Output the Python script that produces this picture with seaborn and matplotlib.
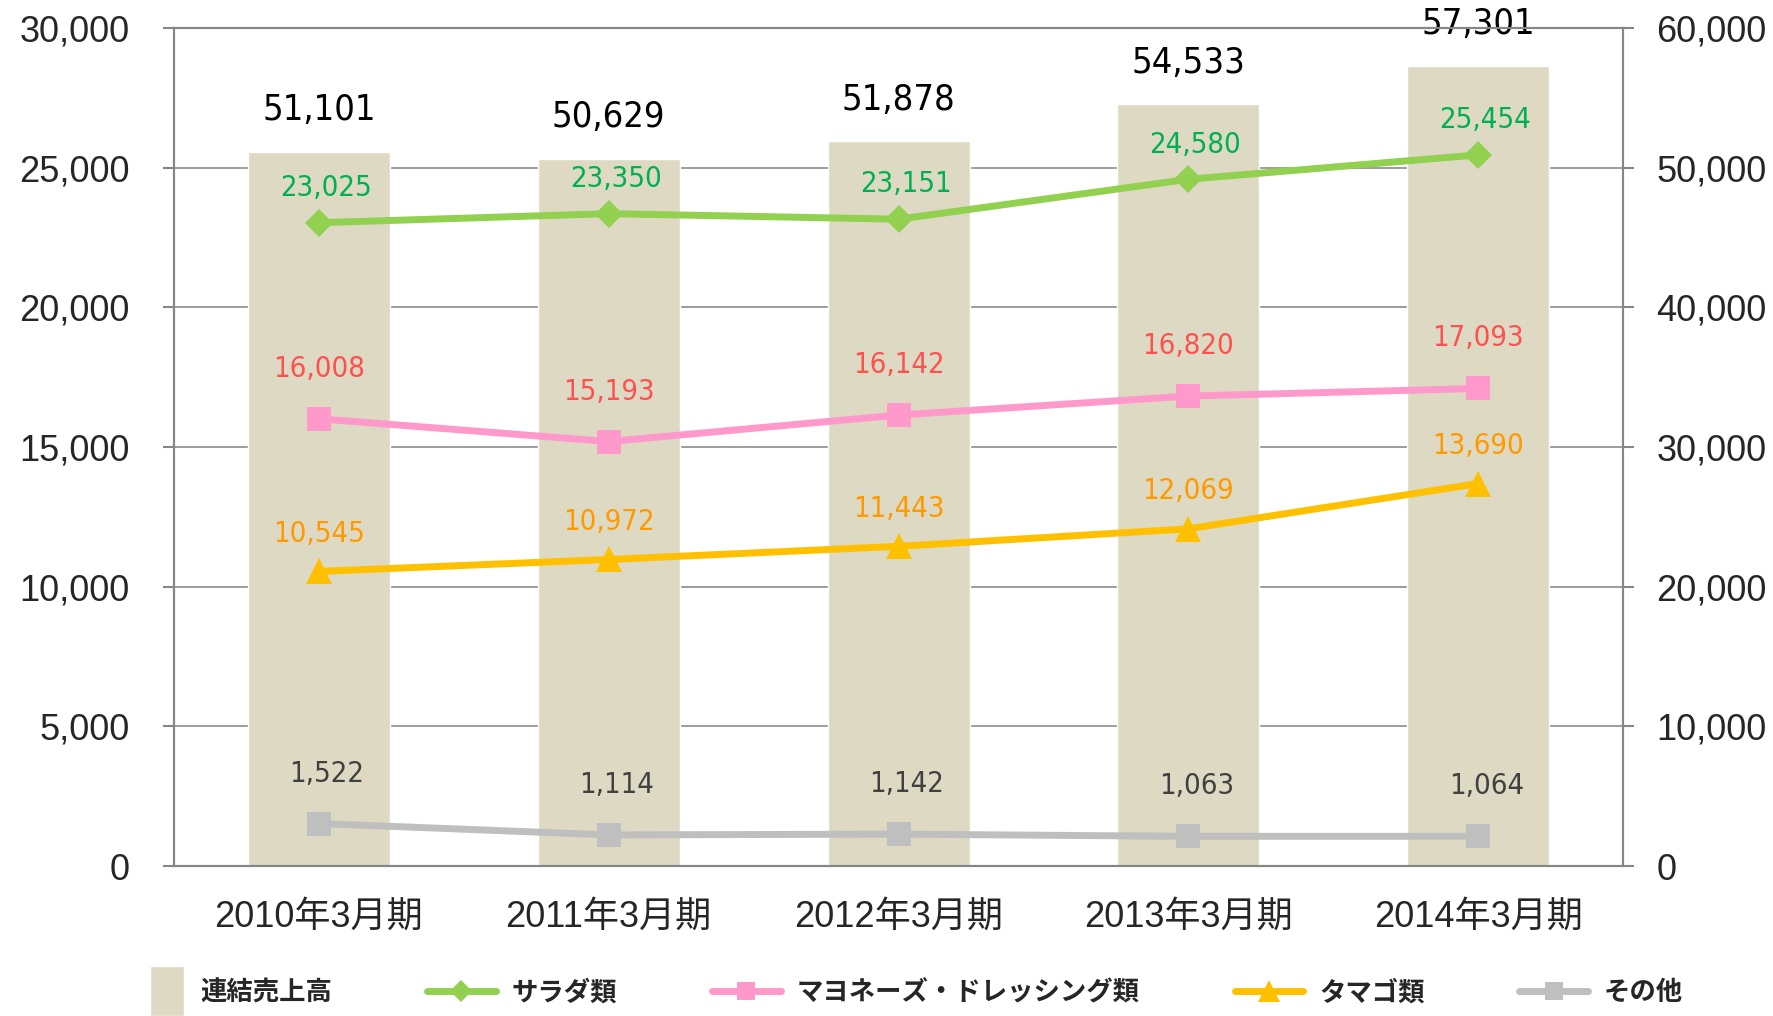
import numpy as np
import pandas as pd
import matplotlib.pyplot as plt
import seaborn as sns
from matplotlib.lines import Line2D
from matplotlib.patches import Patch, Rectangle
from matplotlib.legend_handler import HandlerPatch
from matplotlib.ticker import FixedLocator, StrMethodFormatter

# data
periods = ['2010年3月期', '2011年3月期', '2012年3月期', '2013年3月期', '2014年3月期']
sales_total = [51101, 50629, 51878, 54533, 57301]
salad = [23025, 23350, 23151, 24580, 25454]
mayo_dressing = [16008, 15193, 16142, 16820, 17093]
egg = [10545, 10972, 11443, 12069, 13690]
other = [1522, 1114, 1142, 1063, 1064]

bar_name = '連結売上高'
series_names = ['サラダ類', 'マヨネーズ・ドレッシング類', 'タマゴ類', 'その他']
series_values = [salad, mayo_dressing, egg, other]

# styles
bar_color = '#DDD9C3'
line_colors = ['#92D050', '#FF99CC', '#FFC000', '#BFBFBF']
label_colors = ['#00B050', '#FF5050', '#FF9900', '#404040']
markers = ['D', 's', '^', 's']
marker_sizes = [14, 17, 19, 17]
label_offsets = [(5, 25), (0, 36), (0, 27), (6, 36)]
axis_gray = '#868686'

sns.set_style('white')
plt.rcParams['font.family'] = ['Liberation Sans', 'Noto Sans CJK JP']

fig = plt.figure(figsize=(17.74, 10.16), dpi=100)
ax = fig.add_axes([0.098, 0.1476, 0.817, 0.825])

# bars on the primary axes (right scale), lines on the twin (left scale)
bar_df = pd.DataFrame({'period': periods, 'sales': sales_total})
sns.barplot(data=bar_df, x='period', y='sales', color=bar_color, saturation=1,
            width=0.49, ax=ax, zorder=2)
ax.set_xlim(-0.5, len(periods) - 0.5)
ax.set_ylim(0, 60000)
ax.set_xlabel('')
ax.set_ylabel('')
ax.grid(axis='y', color='#8C8C8C', lw=1.2)
ax.set_axisbelow(True)
ax.set_xticks(range(len(periods)))
ax.set_xticklabels(periods)
ax.tick_params(axis='x', which='major', length=0, labelsize=26, pad=24)
ax.set_xticks(np.arange(-0.5, len(periods), 1), minor=True)
ax.tick_params(axis='x', which='minor', direction='out', length=8, width=1.5,
               color=axis_gray)

for i, v in enumerate(sales_total):
    ax.annotate(f'{v:,}', (i, v), xytext=(0, 30), textcoords='offset points',
                ha='center', va='center', fontsize=26, color='black',
                family='DejaVu Sans', fontstretch='condensed')

ax2 = ax.twinx()
xpos = np.arange(len(periods))
for vals, c, lc, mk, ms, (dx, dy) in zip(series_values, line_colors, label_colors,
                                          markers, marker_sizes, label_offsets):
    sns.lineplot(x=xpos, y=vals, ax=ax2, color=c, lw=5, marker=mk, markersize=ms,
                 markeredgewidth=0, zorder=3, legend=False)
    for x, v in zip(xpos, vals):
        ax2.annotate(f'{v:,}', (x, v), xytext=(dx, dy), textcoords='offset points',
                     ha='center', va='center', fontsize=21, color=lc,
                     family='DejaVu Sans', fontstretch='condensed')
ax2.set_ylim(0, 30000)
ax2.set_ylabel('')
ax2.yaxis.set_major_locator(FixedLocator(range(0, 30001, 5000)))
ax2.yaxis.set_major_formatter(StrMethodFormatter('{x:,.0f}'))
ax2.yaxis.tick_left()
ax2.tick_params(axis='y', direction='out', length=8, width=1.5, color=axis_gray,
                labelsize=26, pad=24)

# twinx resets the primary ticks to the left, so set the right scale afterwards
ax.yaxis.set_major_locator(FixedLocator(range(0, 60001, 10000)))
ax.yaxis.set_major_formatter(StrMethodFormatter('{x:,.0f}'))
ax.yaxis.tick_right()
ax.tick_params(axis='y', direction='out', length=8, width=1.5, color=axis_gray,
               labelsize=26, pad=16)

for a in (ax, ax2):
    for s in a.spines.values():
        s.set_color(axis_gray)
        s.set_linewidth(1.5)


def tall_rect(legend, orig_handle, xdescent, ydescent, width, height, fontsize):
    h = height * 2.7
    return Rectangle((-xdescent + width * 0.5, -ydescent + height / 2 - h / 2),
                     width * 0.5, h)


handles = [Patch(facecolor=bar_color, label=bar_name)]
for n, c, mk, ms in zip(series_names, line_colors, markers, marker_sizes):
    handles.append(Line2D([], [], color=c, lw=5, marker=mk, markersize=ms * 0.8,
                          markeredgewidth=0, label=n))

fig.legend(handles=handles, loc='center', bbox_to_anchor=(0.507, 0.023), ncol=5,
           frameon=False, handlelength=2.6, handletextpad=0.6, columnspacing=3.6,
           prop=dict(family='Noto Sans CJK JP', weight='bold', size=19),
           handler_map={Patch: HandlerPatch(patch_func=tall_rect)})

fig.savefig('out.png', dpi=100)
